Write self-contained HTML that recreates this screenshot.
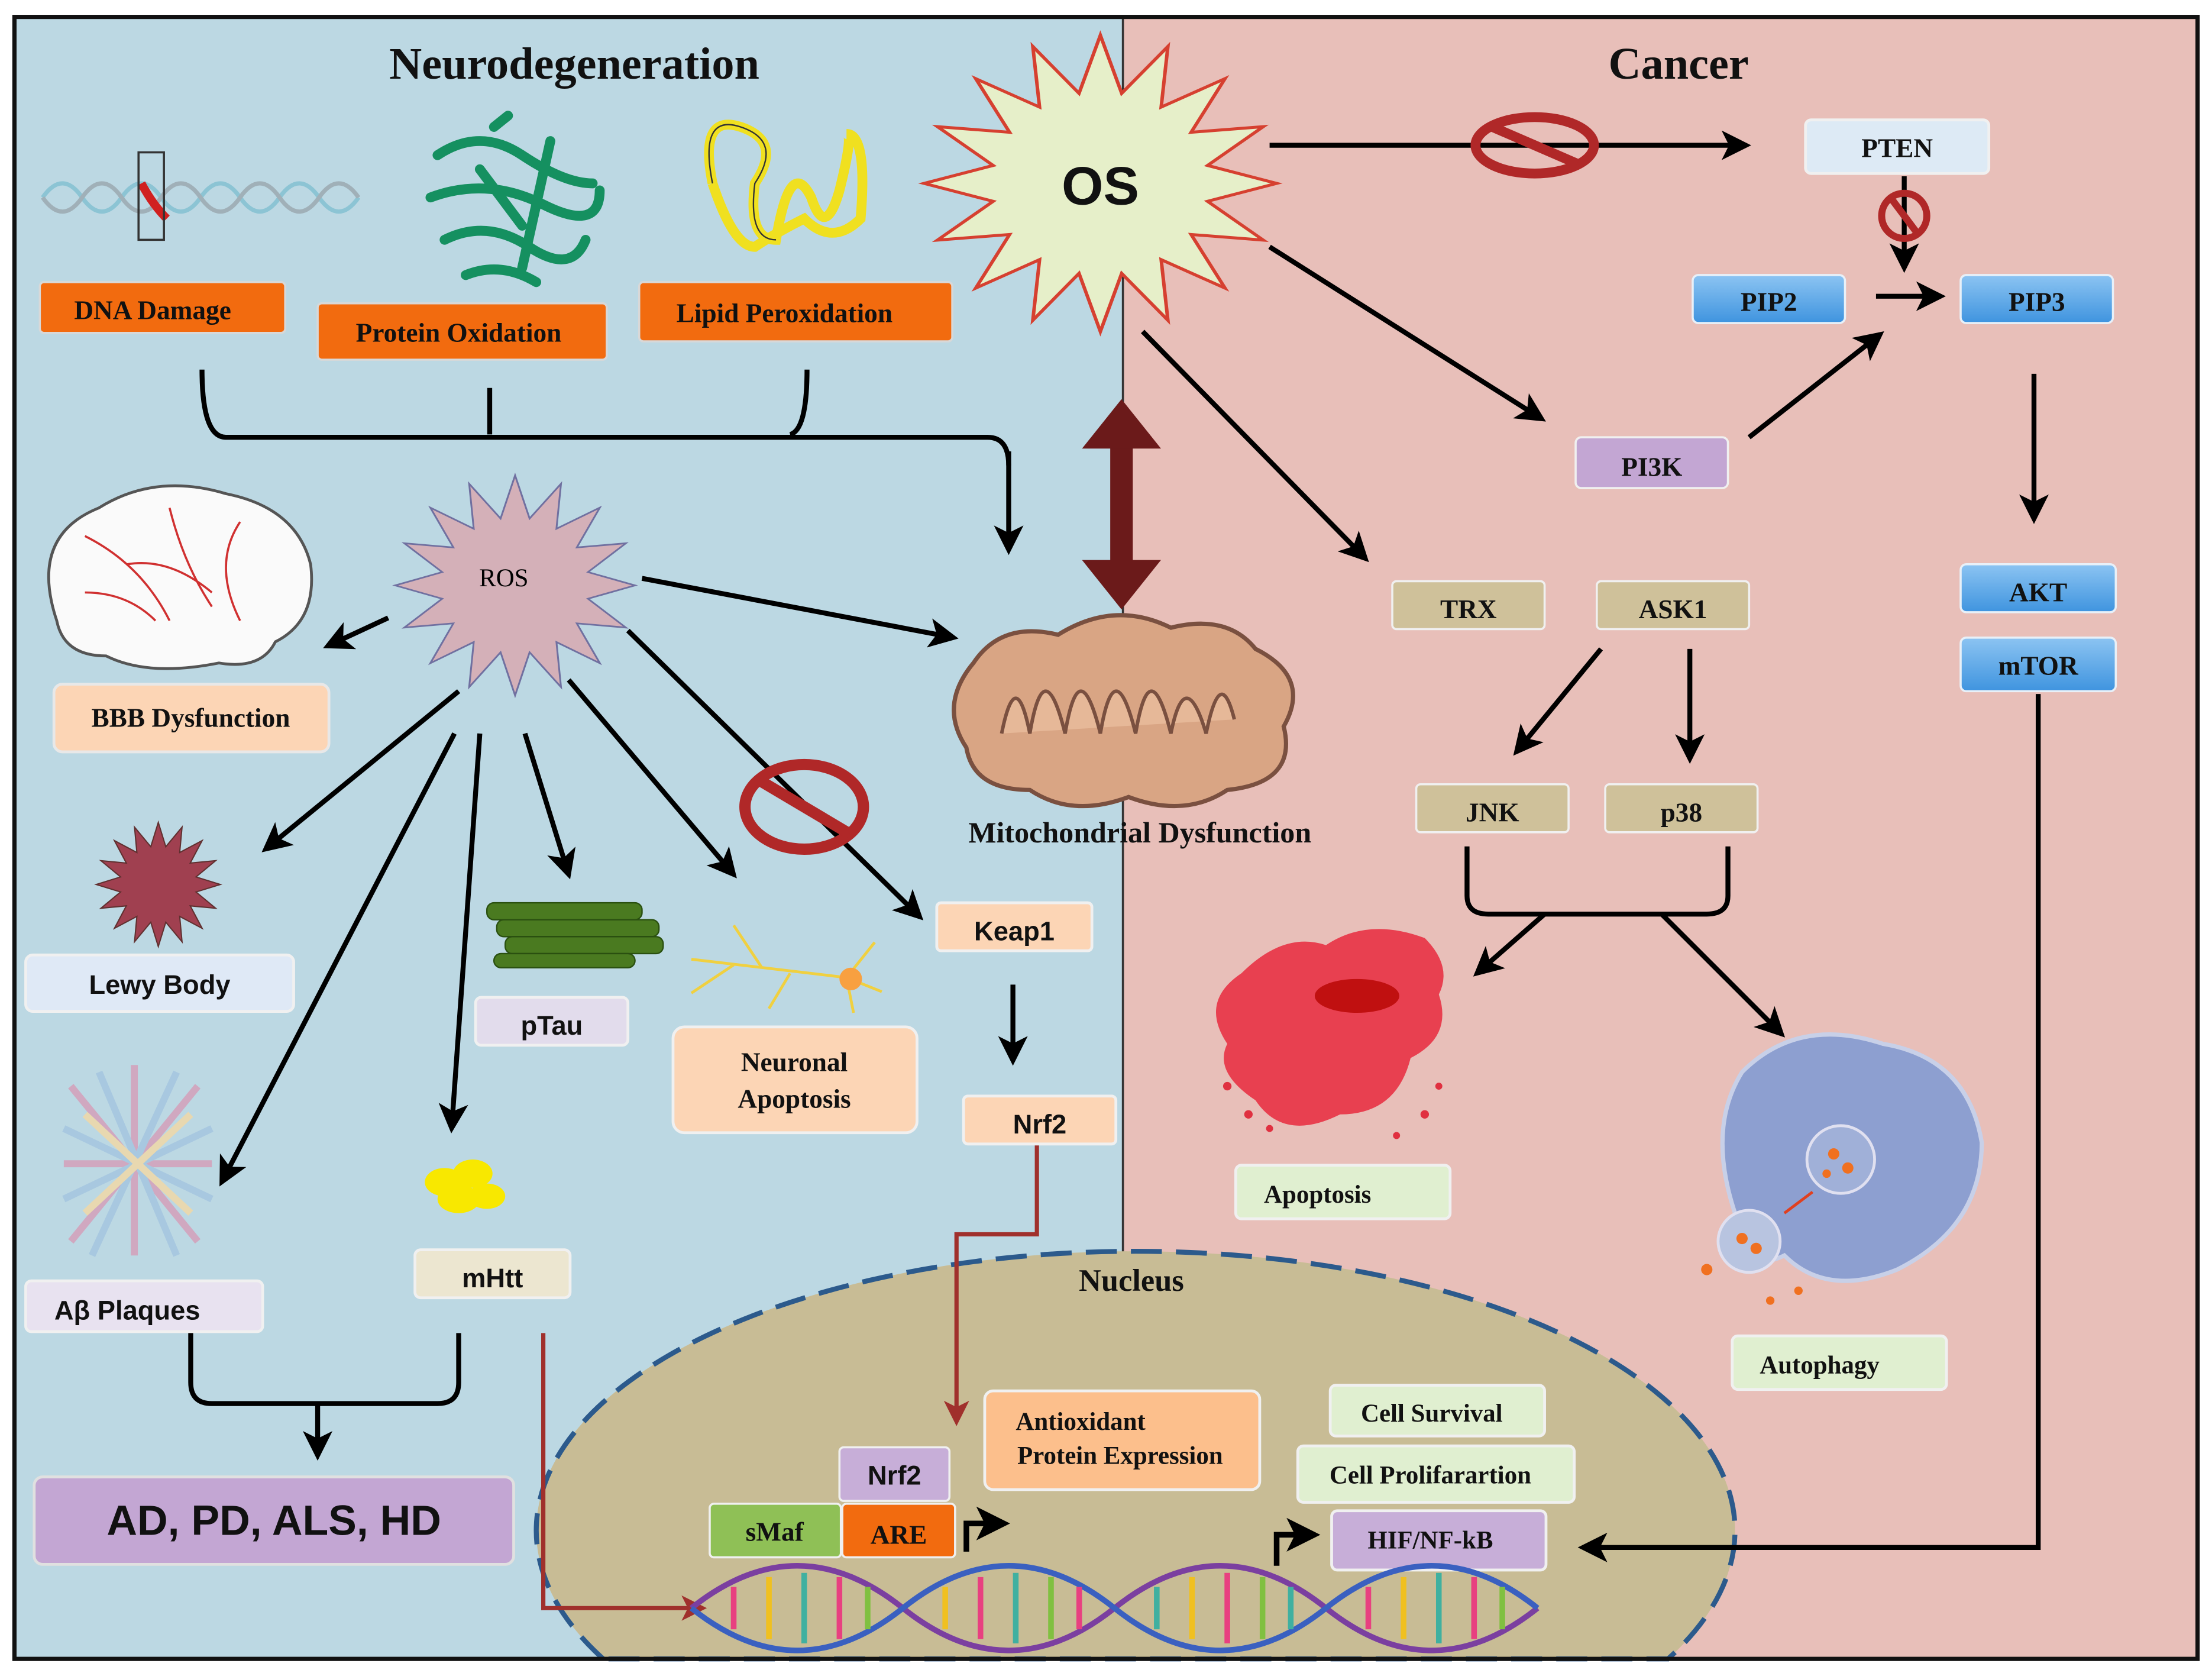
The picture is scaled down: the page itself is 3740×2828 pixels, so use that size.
<!DOCTYPE html>
<html><head><meta charset="utf-8"><style>
html,body{margin:0;padding:0;background:#fff;width:3740px;height:2828px;overflow:hidden}
svg{display:block}
.b{font-family:"Liberation Serif",serif;font-weight:bold;font-size:19px;text-anchor:middle;dominant-baseline:central;fill:#111}
.s{font-family:"Liberation Sans",sans-serif;font-weight:bold;font-size:19px;text-anchor:middle;dominant-baseline:central;fill:#111}
.ar{stroke:#000;stroke-width:3.5;fill:none;marker-end:url(#ah)}
.ln{stroke:#000;stroke-width:3.5;fill:none}
</style></head><body>
<svg width="3740" height="2828" viewBox="0 0 1568 1186" xmlns="http://www.w3.org/2000/svg">
<defs>
<marker id="ah" markerWidth="6" markerHeight="6" refX="5" refY="3" orient="auto" markerUnits="strokeWidth"><path d="M0,0 L6,3 L0,6 L1.5,3 z" fill="#000"/></marker>
<marker id="ahr" markerWidth="6" markerHeight="6" refX="5" refY="3" orient="auto" markerUnits="strokeWidth"><path d="M0,0 L6,3 L0,6 L1.5,3 z" fill="#a0302c"/></marker>
<polygon id="star" points="1,0 .608,.121 .924,.383 .515,.345 .707,.707 .345,.515 .383,.924 .121,.608 0,1 -.121,.608 -.383,.924 -.345,.515 -.707,.707 -.515,.345 -.924,.383 -.608,.121 -1,0 -.608,-.121 -.924,-.383 -.515,-.345 -.707,-.707 -.345,-.515 -.383,-.924 -.121,-.608 0,-1 .121,-.608 .383,-.924 .345,-.515 .707,-.707 .515,-.345 .924,-.383 .608,-.121"/>
<linearGradient id="blu" x1="0" y1="0" x2="0" y2="1"><stop offset="0" stop-color="#8cc4f2"/><stop offset="1" stop-color="#3f94df"/></linearGradient>
</defs>
<rect x="0" y="0" width="1568" height="1186" fill="#fff"/>
<rect x="10" y="12" width="786" height="1164" fill="#bcd8e3"/>
<rect x="796" y="12" width="762" height="1164" fill="#e8bfb9"/>
<line x1="796" y1="12" x2="796" y2="1176" stroke="#333" stroke-width="1.5"/>
<path d="M427.5,1176 A425,198 0 1,1 1182.5,1176 Z" fill="#c8bc95" stroke="#2c5a8c" stroke-width="3.5" stroke-dasharray="22,10"/>
<rect x="10" y="12" width="1548" height="1164" fill="none" stroke="#111" stroke-width="3"/>
<text x="407" y="45" class="b" style="font-size:32px">Neurodegeneration</text>
<text x="1190" y="45" class="b" style="font-size:32px">Cancer</text>
<text x="802" y="908" class="b" style="font-size:22px">Nucleus</text>

<g stroke="#8cc4d4" stroke-width="3" fill="none">
<path d="M30,140 q14,-20 28,0 t28,0 t28,0 t28,0 t28,0 t28,0 t28,0 t28,0"/>
<path d="M30,140 q14,20 28,0 t28,0 t28,0 t28,0 t28,0 t28,0 t28,0 t28,0" stroke="#a0b0b8"/>
</g>
<path d="M100,130 q8,15 18,25" stroke="#d02020" stroke-width="6" fill="none"/>
<rect x="98" y="108" width="18" height="62" fill="none" stroke="#333" stroke-width="1.5"/>
<g stroke="#159060" stroke-width="7" fill="none" stroke-linecap="round">
<path d="M310,110 q30,-20 60,0 t50,20 M305,140 q40,-15 80,5 t40,-10 M315,170 q30,-15 60,5 t40,-5 M330,195 q25,-10 50,5"/>
<path d="M350,90 l10,-8 M340,120 l30,40 M390,100 l-20,90"/>
</g>
<path d="M505,130 q-10,-50 20,-40 q30,10 10,40 q-5,40 15,40 q10,-60 25,-30 q10,30 20,-5 q10,-40 5,-40 q15,0 10,60 q-20,20 -40,0 q-20,10 -35,20 q-15,0 -30,-45" stroke="#f0e020" stroke-width="7" fill="none"/>
<path d="M505,130 q-10,-50 20,-40 q30,10 10,40 q-5,40 15,40" stroke="#333" stroke-width="1" fill="none"/>

<rect x="28" y="200" width="174" height="36" rx="3" fill="#f26b0f" stroke="#d8d8d8" stroke-width="1.5"/><text x="108" y="220" class="b">DNA Damage</text>
<rect x="225" y="215" width="205" height="40" rx="3" fill="#f26b0f" stroke="#d8d8d8" stroke-width="1.5"/><text x="325" y="236" class="b">Protein Oxidation</text>
<rect x="453" y="200" width="222" height="42" rx="3" fill="#f26b0f" stroke="#d8d8d8" stroke-width="1.5"/><text x="556" y="222" class="b">Lipid Peroxidation</text>
<path d="M143,262 Q143,310 160,310 L700,310 Q715,310 715,330" class="ln"/>
<path d="M715,320 L715,390" class="ar"/>
<path d="M347,275 L347,308 M572,262 Q572,305 560,308" class="ln"/>

<use href="#star" transform="translate(780,130) scale(125,105)" fill="#e6efc9" stroke="#d64030" style="stroke-width:0.02"/>
<text x="780" y="132" class="s" style="font-size:38px">OS</text>

<path d="M795,302 L795,415" stroke="#6b1a1a" stroke-width="16"/>
<polygon points="795,283 823,318 767,318" fill="#6b1a1a"/>
<polygon points="795,432 823,397 767,397" fill="#6b1a1a"/>

<path d="M40,440 q-20,-60 30,-80 q40,-25 90,-10 q50,10 60,50 q5,40 -25,55 q-10,20 -40,15 q-50,10 -80,-5 q-30,0 -35,-25z" fill="#fafafa" stroke="#555" stroke-width="2"/>
<g stroke="#d03030" stroke-width="1.5" fill="none"><path d="M60,380 q40,20 60,60 M120,360 q10,40 30,70 M170,370 q-20,30 0,70 M90,400 q30,-5 60,20 M60,420 q30,0 50,20"/></g>

<use href="#star" transform="translate(365,415) scale(85,78)" fill="#d4b0b8" stroke="#7070a0" style="stroke-width:0.015"/>
<text x="357" y="410" style="font-family:'Liberation Serif',serif;font-size:18px;text-anchor:middle;dominant-baseline:central">ROS</text>

<rect x="38" y="485" width="195" height="48" rx="6" fill="#fcd5b5" stroke="#e8e8e8" stroke-width="2"/><text x="135" y="509" class="b">BBB Dysfunction</text>

<path d="M690,470 q20,-30 60,-20 q40,-25 80,-5 q40,-10 60,15 q40,20 20,55 q10,40 -40,45 q-30,20 -70,5 q-40,15 -70,-5 q-40,0 -45,-30 q-20,-30 5,-60z" fill="#d9a584" stroke="#7a5040" stroke-width="3"/>
<path d="M710,520 q10,-50 20,0 q10,-60 25,0 q10,-60 25,0 q10,-60 25,0 q10,-60 25,0 q10,-50 25,0 q10,-50 20,-10" stroke="#7a5040" stroke-width="2.5" fill="#e6b898"/>
<text x="808" y="590" class="b" style="font-size:21px">Mitochondrial Dysfunction</text>

<use href="#star" transform="translate(112,627) scale(44,44)" fill="#a04050" stroke="#603030" style="stroke-width:0.02"/>
<rect x="18" y="677" width="190" height="40" rx="5" fill="#dfe9f6" stroke="#f0f0f0" stroke-width="2"/><text x="113" y="698" class="s">Lewy Body</text>

<g fill="#4a7a20" stroke="#2a5010" stroke-width="1"><rect x="345" y="640" width="110" height="12" rx="5"/><rect x="352" y="652" width="115" height="12" rx="5"/><rect x="358" y="664" width="112" height="12" rx="5"/><rect x="350" y="676" width="100" height="10" rx="5"/></g>
<rect x="337" y="707" width="108" height="34" rx="4" fill="#e2dcec" stroke="#f0f0f0" stroke-width="2"/><text x="391" y="727" class="s">pTau</text>

<g stroke="#f0d040" stroke-width="2" fill="none"><path d="M600,693 L490,680 M540,686 l-20,-30 M520,684 l-30,20 M600,693 l20,-25 M600,693 l25,10 M600,693 l5,25 M560,690 l-15,25"/></g>
<circle cx="603" cy="694" r="8" fill="#f8a040"/>
<rect x="477" y="728" width="173" height="75" rx="8" fill="#fcd5b5" stroke="#f0f0f0" stroke-width="2"/><text x="563" y="753" class="b">Neuronal</text><text x="563" y="779" class="b">Apoptosis</text>

<rect x="664" y="640" width="110" height="34" rx="3" fill="#fcd5b5" stroke="#f0f0f0" stroke-width="2"/><text x="719" y="660" class="s">Keap1</text>
<path d="M718,698 L718,752" class="ar"/>
<rect x="683" y="777" width="108" height="34" rx="3" fill="#fcd5b5" stroke="#f0f0f0" stroke-width="2"/><text x="737" y="797" class="s">Nrf2</text>

<path d="M275,438 L232,458" class="ar"/>
<path d="M455,410 L676,452" class="ar"/>
<path d="M325,490 L188,602" class="ar"/>
<path d="M322,520 L157,838" class="ar"/>
<path d="M340,520 L320,800" class="ar"/>
<path d="M372,520 L403,620" class="ar"/>
<path d="M403,482 L520,620" class="ar"/>
<path d="M445,447 L652,650" class="ar"/>
<ellipse cx="570" cy="572" rx="42" ry="30" fill="none" stroke="#b02828" stroke-width="8"/>
<line x1="538" y1="553" x2="602" y2="591" stroke="#b02828" stroke-width="8"/>

<g stroke-width="5" fill="none"><path d="M50,770 L140,880 M140,770 L50,880 M45,825 L150,825 M95,755 L95,890" stroke="#d0a8c0"/><path d="M70,760 L125,890 M125,760 L65,890 M45,800 L150,850 M45,850 L150,800" stroke="#a8c8e0"/><path d="M60,790 L135,860 M135,790 L60,860" stroke="#e8d8b0"/></g>
<rect x="18" y="908" width="168" height="36" rx="4" fill="#e8e2f0" stroke="#f0f0f0" stroke-width="2"/><text x="90" y="929" class="s">Aβ Plaques</text>

<g fill="#f8e800"><ellipse cx="315" cy="838" rx="14" ry="10"/><ellipse cx="335" cy="832" rx="14" ry="10"/><ellipse cx="325" cy="850" rx="15" ry="10"/><ellipse cx="345" cy="848" rx="13" ry="9"/></g>
<rect x="294" y="886" width="110" height="34" rx="4" fill="#ece6d0" stroke="#f0f0f0" stroke-width="2"/><text x="349" y="906" class="s">mHtt</text>

<path d="M135,945 L135,980 Q135,995 150,995 L310,995 Q325,995 325,980 L325,945" class="ln"/>
<path d="M225,995 L225,1032" class="ar"/>
<rect x="24" y="1047" width="340" height="62" rx="6" fill="#c3a6d3" stroke="#e0e0e0" stroke-width="2"/><text x="194" y="1078" class="s" style="font-size:30px">AD, PD, ALS, HD</text>

<path d="M385,945 L385,1140 L498,1140" stroke="#a0302c" stroke-width="3" fill="none" marker-end="url(#ahr)"/>
<path d="M735,812 L735,875 L678,875 L678,1008" stroke="#a0302c" stroke-width="3" fill="none" marker-end="url(#ahr)"/>

<rect x="698" y="986" width="195" height="70" rx="6" fill="#fcbf8c" stroke="#f0f0f0" stroke-width="2"/><text x="766" y="1008" class="b" style="font-size:18px">Antioxidant</text><text x="794" y="1032" class="b" style="font-size:18px">Protein Expression</text>
<rect x="595" y="1026" width="78" height="38" rx="3" fill="#c7aed8" stroke="#f0f0f0" stroke-width="1.5"/><text x="634" y="1046" class="s">Nrf2</text>
<rect x="503" y="1066" width="93" height="38" rx="3" fill="#8fc056" stroke="#f0f0f0" stroke-width="1.5"/><text x="549" y="1086" class="b">sMaf</text>
<rect x="597" y="1066" width="80" height="38" rx="3" fill="#f26b0f" stroke="#f0f0f0" stroke-width="1.5"/><text x="637" y="1088" class="b">ARE</text>
<path d="M685,1100 L685,1080 L712,1080" class="ar" style="stroke-width:4"/>
<path d="M905,1110 L905,1088 L932,1088" class="ar" style="stroke-width:4"/>
<rect x="943" y="982" width="152" height="36" rx="4" fill="#e0efd0" stroke="#f0f0f0" stroke-width="2"/><text x="1015" y="1002" class="b" style="font-size:18px">Cell Survival</text>
<rect x="920" y="1025" width="196" height="40" rx="4" fill="#e0efd0" stroke="#f0f0f0" stroke-width="2"/><text x="1014" y="1046" class="b" style="font-size:18px">Cell Prolifarartion</text>
<rect x="944" y="1071" width="152" height="42" rx="4" fill="#c7aed8" stroke="#f0f0f0" stroke-width="2"/><text x="1014" y="1092" class="b" style="font-size:18px">HIF/NF-kB</text>

<g stroke-width="4" fill="none">
<path d="M490,1140 q75,-60 150,0 t150,0 t150,0 t150,0" stroke="#7b3fa0"/>
<path d="M490,1140 q75,60 150,0 t150,0 t150,0 t150,0" stroke="#3a60c0"/>
</g>
<g stroke-width="4">
<line x1="520" y1="1125" x2="520" y2="1155" stroke="#e84080"/><line x1="545" y1="1118" x2="545" y2="1162" stroke="#f0c020"/><line x1="570" y1="1115" x2="570" y2="1165" stroke="#40b0a0"/><line x1="595" y1="1118" x2="595" y2="1162" stroke="#e84080"/><line x1="615" y1="1125" x2="615" y2="1155" stroke="#80c040"/>
<line x1="670" y1="1125" x2="670" y2="1155" stroke="#f0c020"/><line x1="695" y1="1118" x2="695" y2="1162" stroke="#e84080"/><line x1="720" y1="1115" x2="720" y2="1165" stroke="#40b0a0"/><line x1="745" y1="1118" x2="745" y2="1162" stroke="#80c040"/><line x1="765" y1="1125" x2="765" y2="1155" stroke="#e84080"/>
<line x1="820" y1="1125" x2="820" y2="1155" stroke="#40b0a0"/><line x1="845" y1="1118" x2="845" y2="1162" stroke="#f0c020"/><line x1="870" y1="1115" x2="870" y2="1165" stroke="#e84080"/><line x1="895" y1="1118" x2="895" y2="1162" stroke="#80c040"/><line x1="915" y1="1125" x2="915" y2="1155" stroke="#40b0a0"/>
<line x1="970" y1="1125" x2="970" y2="1155" stroke="#e84080"/><line x1="995" y1="1118" x2="995" y2="1162" stroke="#f0c020"/><line x1="1020" y1="1115" x2="1020" y2="1165" stroke="#40b0a0"/><line x1="1045" y1="1118" x2="1045" y2="1162" stroke="#e84080"/><line x1="1065" y1="1125" x2="1065" y2="1155" stroke="#80c040"/>
</g>

<path d="M900,103 L1238,103" class="ar"/>
<ellipse cx="1088" cy="103" rx="42" ry="20" fill="none" stroke="#b02828" stroke-width="7"/>
<line x1="1058" y1="90" x2="1118" y2="116" stroke="#b02828" stroke-width="7"/>
<rect x="1280" y="85" width="130" height="38" rx="4" fill="#ddeaf5" stroke="#f0f0f0" stroke-width="2"/><text x="1345" y="105" class="b">PTEN</text>
<path d="M1350,125 L1350,190" class="ar"/>
<ellipse cx="1350" cy="153" rx="16" ry="16" fill="none" stroke="#b02828" stroke-width="5"/>
<line x1="1341" y1="141" x2="1359" y2="165" stroke="#b02828" stroke-width="5"/>
<rect x="1200" y="195" width="108" height="34" rx="4" fill="url(#blu)" stroke="#e8f0f8" stroke-width="1.5"/><text x="1254" y="214" class="b">PIP2</text>
<rect x="1390" y="195" width="108" height="34" rx="4" fill="url(#blu)" stroke="#e8f0f8" stroke-width="1.5"/><text x="1444" y="214" class="b">PIP3</text>
<path d="M1330,210 L1376,210" class="ar"/>
<path d="M900,175 L1093,297" class="ar"/>
<rect x="1117" y="310" width="108" height="36" rx="4" fill="#c3a6d3" stroke="#f0f0f0" stroke-width="1.5"/><text x="1171" y="331" class="b">PI3K</text>
<path d="M1240,310 L1333,237" class="ar"/>
<path d="M810,235 L968,396" class="ar"/>
<rect x="987" y="412" width="108" height="34" rx="3" fill="#cfc19a" stroke="#f0f0f0" stroke-width="1.5"/><text x="1041" y="432" class="b">TRX</text>
<rect x="1132" y="412" width="108" height="34" rx="3" fill="#cfc19a" stroke="#f0f0f0" stroke-width="1.5"/><text x="1186" y="432" class="b">ASK1</text>
<path d="M1135,460 L1075,533" class="ar"/>
<path d="M1198,460 L1198,538" class="ar"/>
<rect x="1004" y="556" width="108" height="34" rx="3" fill="#cfc19a" stroke="#f0f0f0" stroke-width="1.5"/><text x="1058" y="576" class="b">JNK</text>
<rect x="1138" y="556" width="108" height="34" rx="3" fill="#cfc19a" stroke="#f0f0f0" stroke-width="1.5"/><text x="1192" y="576" class="b">p38</text>
<path d="M1040,600 L1040,635 Q1040,648 1055,648 L1210,648 Q1225,648 1225,635 L1225,600" class="ln"/>
<path d="M1095,648 L1047,690" class="ar"/>
<path d="M1178,648 L1263,733" class="ar"/>
<path d="M880,690 q30,-30 60,-20 q30,-20 70,-5 q20,20 10,40 q10,30 -20,45 q-10,40 -50,40 q-40,20 -60,-10 q-30,-20 -20,-40 q-20,-30 10,-50z" fill="#e84050"/>
<ellipse cx="962" cy="706" rx="30" ry="12" fill="#c01010"/>
<g fill="#e03040"><circle cx="870" cy="770" r="3"/><circle cx="885" cy="790" r="3"/><circle cx="1010" cy="790" r="3"/><circle cx="1020" cy="770" r="2.5"/><circle cx="900" cy="800" r="2.5"/><circle cx="990" cy="805" r="2.5"/></g>
<rect x="876" y="826" width="152" height="38" rx="4" fill="#e0efd0" stroke="#f0f0f0" stroke-width="2"/><text x="934" y="847" class="b" style="font-size:18px">Apoptosis</text>
<path d="M1230,860 q-20,-60 5,-100 q40,-40 100,-20 q60,10 70,70 q0,60 -60,90 q-50,20 -80,-10 q-30,15 -35,-30z" fill="#8d9fd0" stroke="#c8d0e8" stroke-width="3"/>
<circle cx="1305" cy="822" r="24" fill="#a0b0d8" stroke="#e0e0f0" stroke-width="2"/>
<circle cx="1240" cy="880" r="22" fill="#b8c4e0" stroke="#e0e0f0" stroke-width="2"/>
<g fill="#f07020"><circle cx="1300" cy="818" r="4"/><circle cx="1310" cy="828" r="4"/><circle cx="1295" cy="832" r="3"/><circle cx="1235" cy="878" r="4"/><circle cx="1245" cy="885" r="4"/><circle cx="1210" cy="900" r="4"/><circle cx="1255" cy="922" r="3"/><circle cx="1275" cy="915" r="3"/></g>
<path d="M1265,860 L1285,845" stroke="#e04020" stroke-width="2"/>
<rect x="1228" y="947" width="152" height="38" rx="4" fill="#e0efd0" stroke="#f0f0f0" stroke-width="2"/><text x="1290" y="968" class="b" style="font-size:18px">Autophagy</text>

<path d="M1442,265 L1442,368" class="ar"/>
<rect x="1390" y="400" width="110" height="34" rx="4" fill="url(#blu)" stroke="#e8f0f8" stroke-width="1.5"/><text x="1445" y="420" class="b">AKT</text>
<rect x="1390" y="452" width="110" height="38" rx="4" fill="url(#blu)" stroke="#e8f0f8" stroke-width="1.5"/><text x="1445" y="472" class="b">mTOR</text>
<path d="M1445,492 L1445,1097 L1122,1097" class="ar"/>
</svg>
</body></html>
